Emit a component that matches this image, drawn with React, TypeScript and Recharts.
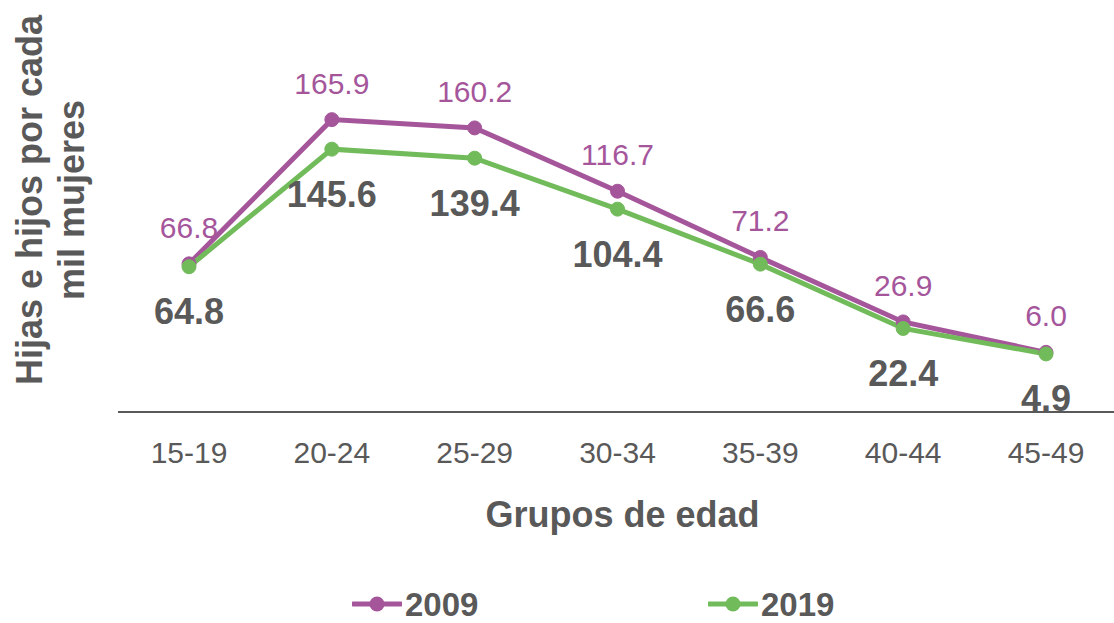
import { LineChart, Line, XAxis, YAxis, Legend, LabelList } from "recharts";

const grupos = ["15-19", "20-24", "25-29", "30-34", "35-39", "40-44", "45-49"];
const tasa2009 = [66.8, 165.9, 160.2, 116.7, 71.2, 26.9, 6.0];
const tasa2019 = [64.8, 145.6, 139.4, 104.4, 66.6, 22.4, 4.9];

const MORADO = "#A5569B";
const VERDE = "#72BB5B";
const GRIS = "#595959";
const FONT = "'Liberation Sans', Arial, sans-serif";

const data = grupos.map((grupo, i) => ({ grupo, a2009: tasa2009[i], a2019: tasa2019[i] }));

const fmt = (v: number) => Number(v).toFixed(1);

function YTitle() {
  return (
    <g fontFamily={FONT} fontSize={36} fontWeight="bold" fill={GRIS}>
      <text x={42} y={200} transform="rotate(-90 42 200)" textAnchor="middle">
        Hijas e hijos por cada
      </text>
      <text x={84} y={200} transform="rotate(-90 84 200)" textAnchor="middle">
        mil mujeres
      </text>
    </g>
  );
}

function LegendBox({ payload }: any) {
  const lefts = [352, 708];
  return (
    <div style={{ position: "relative", width: 1114, height: 61 }}>
      {(payload || []).map((p: any, i: number) => (
        <div
          key={p.value}
          style={{ position: "absolute", left: lefts[i], top: 18, height: 40, display: "flex", alignItems: "center" }}
        >
          <svg width={50} height={40}>
            <line x1={1} y1={24} x2={49} y2={24} stroke={p.color} strokeWidth={5} strokeLinecap="round" />
            <circle cx={25} cy={24} r={7.5} fill={p.color} />
          </svg>
          <span
            style={{
              marginLeft: 3,
              fontFamily: FONT,
              fontSize: 33,
              fontWeight: "bold",
              color: GRIS,
              lineHeight: "36px",
              whiteSpace: "nowrap",
              position: "relative",
              top: 5,
            }}
          >
            {p.value}
          </span>
        </div>
      ))}
    </div>
  );
}

export default function App() {
  return (
    <div style={{ position: "absolute", left: 0, top: 0, width: 1114, height: 623, overflow: "hidden", background: "#fff" }}>
      <LineChart width={1117} height={623} data={data} margin={{ top: 70, right: 0, bottom: 0, left: 0 }}>
        <XAxis
          dataKey="grupo"
          padding={{ left: 71, right: 71 }}
          axisLine={{ stroke: GRIS, strokeWidth: 2 }}
          tickLine={false}
          tickMargin={24}
          height={150}
          tick={{ fill: GRIS, fontSize: 30, fontFamily: FONT }}
          label={{
            value: "Grupos de edad",
            position: "insideBottom",
            offset: 35,
            dx: 5,
            fill: GRIS,
            fontSize: 36,
            fontWeight: "bold",
            fontFamily: FONT,
          }}
        />
        <YAxis
          width={118}
          domain={[-35, 200]}
          axisLine={false}
          tickLine={false}
          tick={false}
          label={{ content: () => <YTitle /> }}
        />
        <Legend
          verticalAlign="bottom"
          wrapperStyle={{ left: 0, bottom: 0, width: 1114, height: 61 }}
          content={(props: any) => <LegendBox payload={props.payload} />}
        />
        <Line
          dataKey="a2009"
          name="2009"
          stroke={MORADO}
          strokeWidth={5}
          dot={{ r: 7, fill: MORADO, stroke: MORADO, strokeWidth: 1 }}
          activeDot={false}
          isAnimationActive={false}
        >
          <LabelList
            dataKey="a2009"
            position="top"
            offset={26}
            formatter={fmt}
            fill={MORADO}
            fontSize={30}
            fontFamily={FONT}
          />
        </Line>
        <Line
          dataKey="a2019"
          name="2019"
          stroke={VERDE}
          strokeWidth={5}
          dot={{ r: 7, fill: VERDE, stroke: VERDE, strokeWidth: 1 }}
          activeDot={false}
          isAnimationActive={false}
        >
          <LabelList
            dataKey="a2019"
            position="bottom"
            offset={32}
            formatter={fmt}
            fill={GRIS}
            fontSize={36}
            fontWeight="bold"
            fontFamily={FONT}
          />
        </Line>
      </LineChart>
    </div>
  );
}
